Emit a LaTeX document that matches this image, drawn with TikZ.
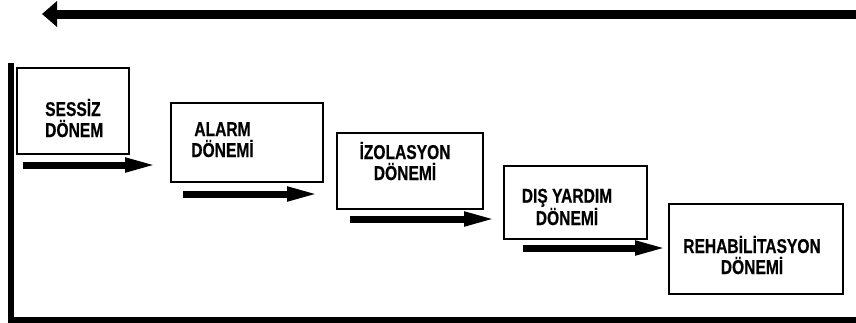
\documentclass[tikz,border=0pt]{standalone}
\usepackage{fontspec}
\setmainfont{Liberation Sans}[FakeStretch=0.78, BoldFeatures={FakeBold=0.5}]
\usetikzlibrary{arrows.meta}
\tikzset{
  stagebox/.style={draw=black, line width=1.6pt, rectangle, inner sep=0pt},
  stagetext/.style={font=\bfseries\fontsize{20}{21}\selectfont, inner sep=0pt, align=center, anchor=base},
  flowarrow/.style={line width=7pt, -{Triangle[length=33pt,width=13pt]}},
  backarrow/.style={line width=9pt, -{Triangle[length=15pt,width=25pt]}}
}
\begin{document}
\begin{tikzpicture}[x=1pt,y=-1pt]
\useasboundingbox (0,0) rectangle (856,322);
% boxes
\node[stagebox, minimum width=112pt, minimum height=86pt] (b1) at (73,111) {};
\node[stagebox, minimum width=152pt, minimum height=79pt] (b2) at (247,142.5) {};
\node[stagebox, minimum width=146pt, minimum height=76pt] (b3) at (410,171) {};
\node[stagebox, minimum width=143pt, minimum height=73pt] (b4) at (575.5,202.5) {};
\node[stagebox, minimum width=174pt, minimum height=90pt] (b5) at (756,249) {};
% texts (anchor = baseline of last line)
\node[stagetext, align=left, anchor=base west] (t1) at (45,137) {SESSİZ\\DÖNEM};
\node[stagetext] (t2) at (222.5,157) {ALARM\\DÖNEMİ};
\node[stagetext] (t3) at (405,180) {İZOLASYON\\DÖNEMİ};
\node[stagetext] (t4) at (567,225) {DIŞ YARDIM\\DÖNEMİ};
\node[stagetext] (t5) at (752,274) {REHABİLİTASYON\\DÖNEMİ};
% arrows between stages
\coordinate (a1s) at (23,165);  \coordinate (a1e) at (158,165);
\coordinate (a2s) at (183,194); \coordinate (a2e) at (320,194);
\coordinate (a3s) at (350,219); \coordinate (a3e) at (497,219);
\coordinate (a4s) at (523,248); \coordinate (a4e) at (668,248);
\draw[flowarrow] (a1s) -- (a1e);
\draw[flowarrow] (a2s) -- (a2e);
\draw[flowarrow] (a3s) -- (a3e);
\draw[flowarrow] (a4s) -- (a4e);
% top feedback arrow
\coordinate (ts) at (856,14); \coordinate (te) at (42,14);
\draw[backarrow] (ts) -- (te);
% axes
\coordinate (v0) at (11,63); \coordinate (v1) at (11,319.5); \coordinate (h1) at (856,319.5);
\draw[line width=6pt] (v0) -- (v1) -- (h1);
\end{tikzpicture}
\end{document}
